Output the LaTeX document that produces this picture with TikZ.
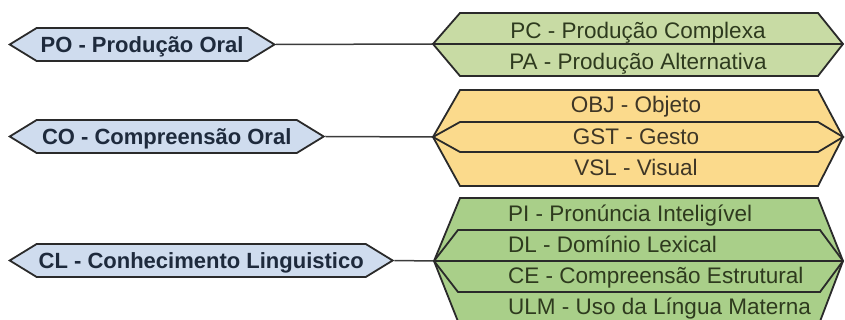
\documentclass[tikz,border=0pt]{standalone}
\usepackage{fontspec}
\setmainfont{Liberation Sans}
\usetikzlibrary{shapes.symbols, positioning, calc}
\definecolor{boxBlue}{HTML}{CFDCEE}
\definecolor{boxGreen}{HTML}{C8DBA4}
\definecolor{boxOrange}{HTML}{FBDA8C}
\definecolor{boxGreenDark}{HTML}{A9CF89}
\definecolor{edgeDark}{HTML}{2A2A2A}
\definecolor{linkGray}{HTML}{3C3C3C}
\definecolor{textNavy}{HTML}{1E2A3C}
\definecolor{textOlive}{HTML}{2E3A1E}
\definecolor{textBrown}{HTML}{3E3626}

\tikzset{
  lbox/.style={signal, signal to=west and east, signal pointer angle=63,
    draw=edgeDark, line width=1.8pt, fill=boxBlue, text=textNavy,
    font=\bfseries\fontsize{22}{26}\selectfont, text height=16pt, text depth=0pt,
    minimum height=33pt, inner ysep=0pt, anchor=west},
  rbox/.style={draw=edgeDark, line width=1.8pt, line join=miter},
  rtext/.style={font=\fontsize{22.5}{26}\selectfont, text height=16pt, text depth=0pt, inner sep=0pt},
  link/.style={draw=linkGray, line width=1.5pt}
}

\begin{document}
\begin{tikzpicture}[x=1pt, y=-1pt, node distance=15pt]
  \useasboundingbox (0,0) rectangle (845,320);

  % Pontas dos grupos da direita
  \coordinate (poIn) at (433,44);
  \coordinate (poOut) at (843,44);
  \coordinate (coIn) at (433,137);
  \coordinate (coOut) at (843,137);
  \coordinate (clIn) at (434,261);
  \coordinate (clOut) at (843,261);

  % Nós da esquerda
  \node[lbox, minimum width=264pt, inner xsep=4pt] (po) at (8,44.5) {PO - Produção Oral};
  \node[lbox, minimum width=314pt, inner xsep=4pt] (co) at (8,136.5) {CO - Compreensão Oral};
  \node[lbox, minimum width=382pt, inner xsep=2pt] (cl) at (8,260.5) {CL - Conhecimento Linguistico};

  % Ligações
  \draw[link] (po.east) -- (poIn);
  \draw[link] (co.east) -- (coIn);
  \draw[link] (cl.east) -- (clIn);

  % Grupo produção
  \draw[rbox, fill=boxGreen] (poIn) -- (460,13) -- (818,13) -- (poOut) -- (818,76) -- (460,76) -- cycle;
  \draw[rbox] (poIn) -- (poOut);
  \node[rtext, text=textOlive] (pc) at (638,30.5) {PC - Produção Complexa};
  \node[rtext, text=textOlive, below=of pc] (pa) {PA - Produção Alternativa};

  % Grupo compreensão
  \draw[rbox, fill=boxOrange] (coIn) -- (460,90) -- (818,90) -- (coOut) -- (818,186) -- (460,186) -- cycle;
  \draw[rbox] (coIn) -- (460,122) -- (818,122) -- (coOut) -- (818,152) -- (460,152) -- cycle;
  \node[rtext, text=textBrown] (obj) at (636,105) {OBJ - Objeto};
  \node[rtext, text=textBrown, below=of obj] (gst) {GST - Gesto};
  \node[rtext, text=textBrown, below=of gst] (vsl) {VSL - Visual};

  % Grupo conhecimento
  \draw[rbox, fill=boxGreenDark] (clIn) -- (460,198) -- (818,198) -- (clOut) -- (819,324) -- (459,324) -- cycle;
  \draw[rbox] (clIn) -- (458,230) -- (820,230) -- (clOut) -- (820,292) -- (458,292) -- cycle;
  \draw[rbox] (clIn) -- (clOut);
  \node[rtext, text=textOlive, anchor=west] (pi) at (508,213.5) {PI - Pronúncia Inteligível};
  \node[rtext, text=textOlive, anchor=west] (dl) at (508,244) {DL - Domínio Lexical};
  \node[rtext, text=textOlive, anchor=west] (ce) at (508,275) {CE - Compreensão Estrutural};
  \node[rtext, text=textOlive, anchor=west] (ulm) at (508,306.5) {ULM - Uso da Língua Materna};
\end{tikzpicture}
\end{document}
